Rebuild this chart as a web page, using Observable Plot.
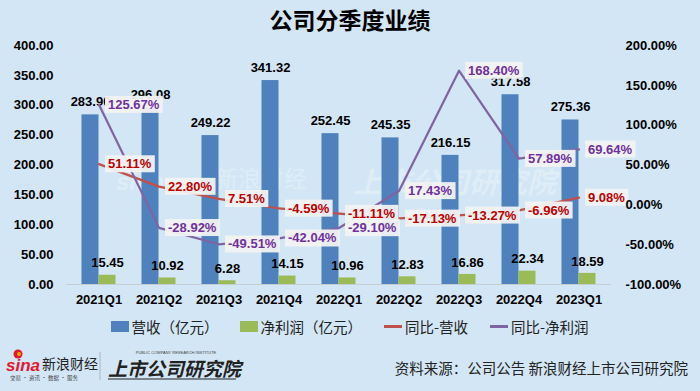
<!DOCTYPE html>
<html><head><meta charset="utf-8">
<script src="https://cdn.jsdelivr.net/npm/d3@7"></script>
<script src="https://cdn.jsdelivr.net/npm/@observablehq/plot@0.6"></script>
<style>
html,body{margin:0;padding:0}
body{background:#d3e6f5;width:700px;height:391px;overflow:hidden;position:relative;font-family:"Noto Sans CJK SC","Noto Sans",sans-serif}
#title{position:absolute;left:0;top:5px;width:700px;text-align:center;font-size:23px;font-weight:bold;color:#000;line-height:28px}
#chart{position:absolute;left:0;top:35px}
#legend{position:absolute;left:0;top:316px;width:700px;display:flex;justify-content:center;align-items:center;font-size:14.5px;color:#222;gap:0}
#legend .it{display:flex;align-items:center;margin:0 11px}
#legend .sw{width:18px;height:11px;margin-right:2px}
#legend .ln{width:18px;height:2.5px;margin-right:3px}
#src{position:absolute;right:12px;top:357px;font-size:14.5px;color:#222}
.wm{position:absolute;color:#fff;opacity:.28;pointer-events:none;white-space:nowrap;line-height:1}
#wm0{left:116px;top:170px;font-size:24px;font-weight:bold;font-style:italic;font-family:"Liberation Sans",sans-serif}
#wm1{left:215px;top:166px;font-size:23px}
#wm2{left:353px;top:166px;font-size:29px;font-weight:bold;font-style:italic}
#logo{position:absolute;left:4px;top:348px;width:240px;height:34px}
</style></head><body>
<div id="title">公司分季度业绩</div>
<div class="wm" id="wm0">sina</div>
<div class="wm" id="wm1">新浪财经</div>
<div class="wm" id="wm2">上市公司研究院</div>
<div id="chart"></div>
<div id="legend">
  <div class="it"><div class="sw" style="background:#4f81bd"></div>营收（亿元）</div>
  <div class="it"><div class="sw" style="background:#9bbb59"></div>净利润（亿元）</div>
  <div class="it"><div class="ln" style="background:#c0504d"></div>同比-营收</div>
  <div class="it"><div class="ln" style="background:#8064a2"></div>同比-净利润</div>
</div>
<svg id="logo" width="240" height="34">
  <circle cx="14" cy="6" r="4.5" fill="#e6162d"/><circle cx="15" cy="6" r="2" fill="#f7a800"/>
  <text x="2" y="23" font-family="Liberation Sans" font-weight="bold" font-style="italic" font-size="17" fill="#e6162d">sina</text>
  <text x="38" y="21" font-family="Noto Sans CJK SC" font-size="14" fill="#222">新浪财经</text>
  <text x="6" y="32" font-family="Noto Sans CJK SC" font-size="5.5" fill="#444">交易 · 资讯 · 数据 · 服务</text>
  <line x1="96" y1="4" x2="96" y2="32" stroke="#aaa" stroke-width="0.8"/>
  <text x="172" y="6" text-anchor="middle" font-family="Liberation Sans" font-size="4" fill="#444">PUBLIC COMPANY RESEARCH INSTITUTE</text>
  <text x="104" y="28" font-family="Noto Sans CJK SC" font-weight="bold" font-style="italic" font-size="19" fill="#222">上市公司研究院</text>
  <line x1="104" y1="31" x2="232" y2="31" stroke="#222" stroke-width="1"/>
</svg>
<div id="src">资料来源：公司公告 新浪财经上市公司研究院</div>
<script>
const quarters = ["2021Q1","2021Q2","2021Q3","2021Q4","2022Q1","2022Q2","2022Q3","2022Q4","2023Q1"];
const revenue = [283.9, 296.08, 249.22, 341.32, 252.45, 245.35, 216.15, 317.58, 275.36];
const profit = [15.45, 10.92, 6.28, 14.15, 10.96, 12.83, 16.86, 22.34, 18.59];
const revYoY = [51.11, 22.80, 7.51, -4.59, -11.11, -17.13, -13.27, -6.96, 9.08];
const profitYoY = [125.67, -28.92, -49.51, -42.04, -29.10, 17.43, 168.40, 57.89, 69.64];
const leftTicks = [0, 50, 100, 150, 200, 250, 300, 350, 400];
const rightTicks = [-100, -50, 0, 50, 100, 150, 200];

const toLeft = p => (p + 100) * 400 / 300;
const rows = quarters.map((q, i) => ({q, rev: revenue[i], profit: profit[i], ry: revYoY[i], py: profitYoY[i]}));
const numFont = "Liberation Sans, Arial, sans-serif";

const plot = Plot.plot({
  width: 700, height: 273,
  marginLeft: 66, marginRight: 89, marginTop: 10, marginBottom: 24,
  style: {background: "transparent", overflow: "visible", fontFamily: numFont},
  x: {type: "band", domain: quarters, paddingInner: 0.72, paddingOuter: 0.36, axis: null, label: null},
  y: {domain: [0, 400], axis: null, label: null},
  marks: [
    Plot.ruleY([0], {stroke: "#c4ccd4", strokeWidth: 1}),
    Plot.barY(rows, {x: "q", y: "rev", fill: "#4f81bd", dx: -8.5}),
    Plot.barY(rows, {x: "q", y: "profit", fill: "#9bbb59", dx: 8.5}),
    Plot.text(rows, {x: "q", y: "rev", text: d => d.rev.toFixed(2), dx: -8.5, dy: -13, fontSize: 13, fontWeight: "bold", fill: "#000"}),
    Plot.text(rows, {x: "q", y: "profit", text: d => d.profit.toFixed(2), dx: 8.5, dy: -12, fontSize: 13, fontWeight: "bold", fill: "#000"}),
    Plot.line(rows, {x: "q", y: d => toLeft(d.ry), stroke: "#c0504d", strokeWidth: 2.25, curve: "linear"}),
    Plot.line(rows, {x: "q", y: d => toLeft(d.py), stroke: "#8064a2", strokeWidth: 2.25, curve: "linear"}),
    Plot.text(rows, {x: "q", y: d => toLeft(d.ry), text: d => d.ry.toFixed(2) + "%", dx: 9, textAnchor: "start", fontSize: 13, fontWeight: "bold", fill: "#c00000", ariaDescription: "pct-label"}),
    Plot.text(rows, {x: "q", y: d => toLeft(d.py), text: d => d.py.toFixed(2) + "%", dx: 9, textAnchor: "start", fontSize: 13, fontWeight: "bold", fill: "#7030a0", ariaDescription: "pct-label"}),
    Plot.axisX({tickSize: 0, tickPadding: 10, fontSize: 13, fontWeight: "bold", fill: "#000", label: null}),
    Plot.axisY(leftTicks, {anchor: "left", tickSize: 0, tickPadding: 13, tickFormat: d => d.toFixed(2), fontSize: 13, fontWeight: "bold", fill: "#000", label: null}),
    Plot.axisY(rightTicks.map(toLeft), {anchor: "right", tickSize: 0, tickPadding: 14, tickFormat: d => (d * 300 / 400 - 100).toFixed(2) + "%", fontSize: 13, fontWeight: "bold", fill: "#000", label: null})
  ]
});
document.getElementById("chart").appendChild(plot);

// label boxes behind the percentage labels
plot.querySelectorAll('g[aria-description="pct-label"] text').forEach(t => {
  const b = t.getBBox();
  const r = document.createElementNS("http://www.w3.org/2000/svg", "rect");
  r.setAttribute("x", b.x - 3);
  r.setAttribute("y", b.y - 1);
  r.setAttribute("width", b.width + 6);
  r.setAttribute("height", b.height + 2);
  r.setAttribute("fill", "#f2f2f2");
  r.setAttribute("fill-opacity", "0.95");
  const tr = t.getAttribute("transform");
  if (tr) r.setAttribute("transform", tr);
  t.parentNode.insertBefore(r, t);
});
</script>
</body></html>
